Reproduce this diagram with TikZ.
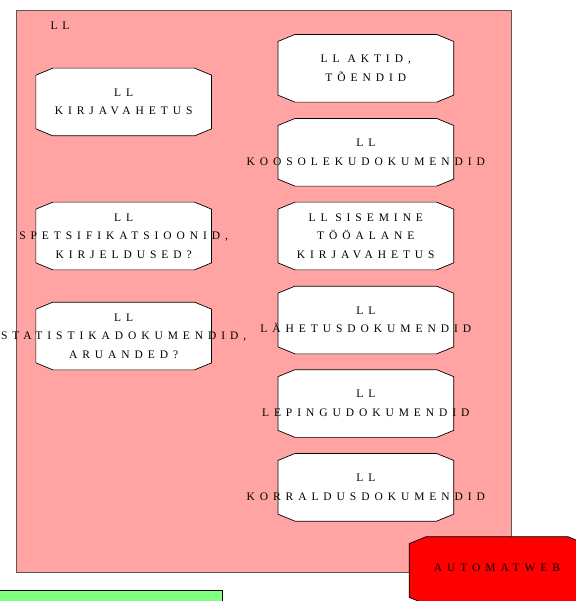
\documentclass[tikz,border=0pt]{standalone}
\usepackage{fontspec}
\setmainfont{Liberation Serif}
\newfontfamily\spacedfont[LetterSpace=43]{Liberation Serif}
\definecolor{cpink}{HTML}{FFA3A3}
\definecolor{cred}{HTML}{FF0000}
\definecolor{cgreen}{HTML}{80FF80}
\definecolor{cedge}{HTML}{5A5A5A}
\tikzset{
  every picture/.style={x=1pt, y=-1pt, line width=0.7pt},
  area/.style={draw=cedge, fill=cpink, minimum width=495pt, minimum height=562pt, inner sep=0pt},
  boxframe/.style={minimum width=175pt, minimum height=67pt, inner sep=0pt},
  doctext/.style={font=\spacedfont\fontsize{11.5}{18.5}\selectfont, text=black, align=center, inner sep=0pt},
}
% octagonal document box: name, position, fill
\newcommand\octbox[3]{%
  \node[boxframe] (#1) at (#2) {};
  \filldraw[draw=black, fill=#3] ([xshift=17pt]#1.north west) -- ([xshift=-17pt]#1.north east)
    -- ([yshift=-7pt]#1.north east) -- ([yshift=7pt]#1.south east)
    -- ([xshift=-17pt]#1.south east) -- ([xshift=17pt]#1.south west)
    -- ([yshift=7pt]#1.south west) -- ([yshift=-7pt]#1.north west) -- cycle;}
\begin{document}
\begin{tikzpicture}
  \useasboundingbox (0,0) rectangle (575,601);
  % container
  \node[area] (ll) at (263.5,291) {};
  \node[doctext] (lltitle) at (60,26) {LL};
  % left column
  \octbox{kiri}{123.7,102}{white}
  \node[doctext] at (kiri) {LL\\KIRJAVAHETUS};
  \octbox{spets}{123.7,236}{white}
  \node[doctext] at (spets) {LL\\SPETSIFIKATSIOONID,\\KIRJELDUSED?};
  \octbox{stat}{123.7,336}{white}
  \node[doctext] at (stat) {LL\\STATISTIKADOKUMENDID,\\ARUANDED?};
  % right column
  \octbox{aktid}{365.8,68.3}{white}
  \node[doctext] at (aktid) {LL AKTID,\\TÕENDID};
  \octbox{koos}{365.8,152.3}{white}
  \node[doctext] at (koos) {LL\\KOOSOLEKUDOKUMENDID};
  \octbox{sise}{365.8,236}{white}
  \node[doctext] at (sise) {LL SISEMINE\\TÖÖALANE\\KIRJAVAHETUS};
  \octbox{lahe}{365.8,320}{white}
  \node[doctext] at (lahe) {LL\\LÄHETUSDOKUMENDID};
  \octbox{lepi}{365.8,403.5}{white}
  \node[doctext] at (lepi) {LL\\LEPINGUDOKUMENDID};
  \octbox{korr}{365.8,487.3}{white}
  \node[doctext] at (korr) {LL\\KORRALDUSDOKUMENDID};
  % outside the container
  \octbox{aw}{497,570.5}{cred}
  \node[doctext] at (497,568) {AUTOMATWEB};
  \node[draw=black, fill=cgreen, minimum width=224pt, minimum height=24pt, inner sep=0pt] (green) at (110,602.5) {};
\end{tikzpicture}
\end{document}
